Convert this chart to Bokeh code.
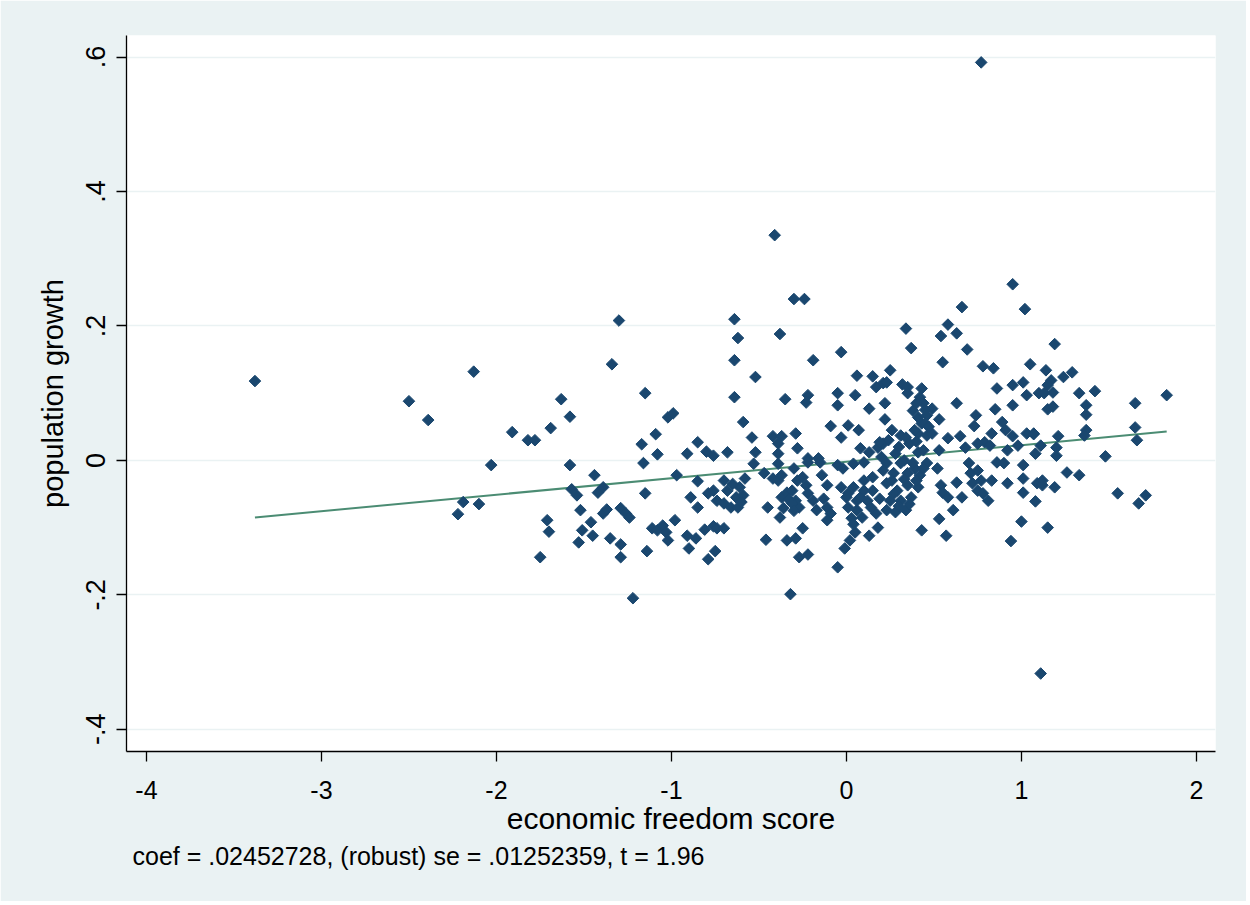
import numpy as np
from bokeh.plotting import figure
from bokeh.models import Range1d, FixedTicker, Title
from bokeh.embed import file_html
from bokeh.resources import INLINE

# economic freedom score (x) and population growth (y)
freedom = [
    -3.38, -2.50, -2.39, -2.13, -1.91, -1.82, -1.78, -1.69, -2.03, -2.19, -2.22, -2.10, -1.71, -1.70, -1.75, -1.63,
    -1.30, -1.34, -1.15, -1.58, -1.02, -0.99, -1.09, -1.17, -1.08, -0.91, -0.85, -0.80, -0.76,
    -1.58, -1.16, -1.44, -1.57, -1.54, -1.42, -1.39, -0.97, -1.15, -0.85, -0.89, -0.85, -0.79, -0.76, -0.74,
    -1.52, -1.39, -1.37, -1.29, -1.26, -1.24, -1.46, -1.51, -1.45, -1.53, -1.35, -1.29, -1.29, -1.11, -1.08,
    -1.05, -1.03, -1.02, -0.98, -0.91, -0.86, -0.90, -1.14, -0.81, -0.76, -0.74, -0.79, -0.75, -1.22,
    -0.41, -0.30, -0.24, -0.64, -0.62, -0.38, -0.64, -0.19, -0.03, -0.52, 0.06, 0.15, 0.17, -0.64, -0.35,
    -0.22, -0.23, -0.05, -0.05, 0.05, 0.13, -0.59, -0.54, -0.42, -0.37, -0.39, -0.39, -0.29, -0.28, -0.09,
    0.01, 0.07, -0.03, -0.68, -0.52, 0.08, 0.13, 0.18, -0.22, -0.16,
    -0.53, -0.39, -0.30, -0.22, -0.15, -0.05, -0.02, 0.04, 0.10,
    -0.70, -0.68, -0.70, -0.66, -0.63, -0.61, -0.58, -0.62, -0.59,
    -0.47, -0.42, -0.39, -0.37, -0.45, -0.70,
    -0.37, -0.34, -0.31, -0.29, -0.27, -0.31, -0.36, -0.38,
    -0.28, -0.25, -0.23, -0.22, -0.25, -0.34, -0.29, -0.46, -0.27, -0.22, -0.14, -0.11,
    -0.19, -0.17, -0.13, -0.11, -0.09, -0.11, -0.01, -0.05, -0.32,
    -0.03, 0.01, 0.04, 0.08, 0.01, 0.03, 0.06, 0.12, 0.15, 0.17, 0.18, 0.13, 0.05, 0.02, 0.10, 0.15,
    0.95, 1.02, 0.66, 0.34, 0.58, 0.54, 0.63, 0.37, 0.69, 0.55, 0.25, 0.78, 0.84, 1.05, 0.21, 0.23, 0.32,
    0.35, 0.35, 0.43, 0.86, 0.95, 1.01, 1.03, 1.10, 0.22,
    0.42, 0.44, 0.38, 0.41, 0.49, 0.46, 0.53, 0.43,
    0.63, 0.85, 0.95, 0.22, 0.74, 0.73, 0.89, 0.91,
    0.31, 0.34, 0.41, 0.46, 0.49, 0.58, 0.65, 0.83, 0.79, 0.95, 1.03, 1.07, 0.21, 0.24,
    0.28, 0.41, 0.44, 0.53, 0.68, 0.75, 0.82, 0.92, 0.98, 1.08, 0.19,
    0.26, 0.30, 0.36, 0.20, 0.33, 0.40, 0.45, 0.39,
    0.23, 0.31, 0.38, 0.46, 0.27, 0.35, 0.42, 0.23, 0.29, 0.35, 0.41, 0.25, 0.31, 0.37, 0.23, 0.28, 0.34, 0.19,
    0.52, 0.54, 0.55, 0.58, 0.63, 0.66, 0.61, 0.53, 0.43, 0.57,
    0.70, 0.71, 0.75, 0.77, 0.72, 0.75, 0.78, 0.81, 0.83, 0.86, 0.90, 0.92, 1.01, 1.01, 1.01, 1.09, 1.08, 1.00, 0.94,
    1.19, 1.14, 1.17, 1.15, 1.24, 1.29, 1.13, 1.18, 1.33, 1.42, 1.15, 1.18, 1.37, 1.37, 1.65, 1.83, 1.37, 1.36,
    1.65, 1.66, 1.07, 1.21, 1.11, 1.20, 1.20, 1.48, 1.26, 1.33, 1.12, 1.12, 1.19, 1.55, 1.71, 1.67, 1.15,
    0.77, 1.11,
    0.21, 0.26, 0.33, 0.40, 0.30, 0.36, 0.44, 0.27,
    0.00, 0.06, 0.10, 0.14, 0.09, 0.04,
    0.45, 0.40, 0.47, 0.39,
    -0.65, -0.60, -0.33, -0.30,
]
growth = [
    0.118, 0.088, 0.060, 0.132, 0.042, 0.030, 0.030, 0.048, -0.007, -0.062, -0.080, -0.065, -0.089, -0.106, -0.144, 0.091,
    0.208, 0.143, 0.100, 0.065, 0.064, 0.070, 0.039, 0.024, 0.009, 0.010, 0.027, 0.013, 0.007,
    -0.007, -0.004, -0.022, -0.043, -0.052, -0.048, -0.040, -0.022, -0.049, -0.031, -0.055, -0.070, -0.049, -0.045, -0.060,
    -0.074, -0.079, -0.073, -0.071, -0.079, -0.085, -0.092, -0.104, -0.112, -0.122, -0.116, -0.125, -0.144, -0.101, -0.104,
    -0.097, -0.107, -0.119, -0.089, -0.112, -0.116, -0.131, -0.135, -0.103, -0.098, -0.101, -0.147, -0.135, -0.205,
    0.335, 0.240, 0.240, 0.210, 0.182, 0.188, 0.149, 0.149, 0.161, 0.124, 0.126, 0.125, 0.109, 0.094, 0.091,
    0.097, 0.086, 0.100, 0.082, 0.097, 0.077, 0.057, 0.034, 0.036, 0.036, 0.025, 0.010, 0.040, 0.018, 0.051,
    0.052, 0.045, 0.034, 0.012, 0.012, 0.018, 0.012, 0.019, 0.003, 0.003,
    -0.005, -0.005, -0.012, -0.003, -0.003, -0.007, -0.012, -0.005, -0.003,
    -0.030, -0.045, -0.064, -0.070, -0.055, -0.040, -0.027, -0.070, -0.052,
    -0.019, -0.027, -0.030, -0.022, -0.070, -0.101,
    -0.055, -0.048, -0.045, -0.060, -0.070, -0.064, -0.071, -0.085,
    -0.030, -0.025, -0.037, -0.049, -0.101, -0.119, -0.116, -0.118, -0.144, -0.140, -0.022, -0.037,
    -0.060, -0.074, -0.057, -0.070, -0.079, -0.089, -0.131, -0.159, -0.199,
    -0.040, -0.049, -0.040, -0.055, -0.070, -0.086, -0.074, -0.060, -0.045, -0.079, -0.100, -0.112, -0.107, -0.119, -0.030, -0.025,
    0.262, 0.225, 0.228, 0.196, 0.202, 0.185, 0.189, 0.167, 0.165, 0.146, 0.134, 0.140, 0.137, 0.143, 0.115, 0.116, 0.113,
    0.109, 0.100, 0.107, 0.107, 0.112, 0.116, 0.097, 0.100, 0.085,
    0.094, 0.085, 0.074, 0.064, 0.077, 0.067, 0.061, 0.055,
    0.085, 0.076, 0.082, 0.061, 0.067, 0.051, 0.057, 0.045,
    0.037, 0.034, 0.040, 0.037, 0.040, 0.033, 0.036, 0.040, 0.027, 0.036, 0.040, 0.040, 0.025, 0.030,
    0.010, 0.012, 0.015, 0.015, 0.019, 0.025, 0.022, 0.015, 0.022, 0.010, 0.027,
    0.045, 0.020, 0.025, 0.005, 0.000, 0.028, 0.055, -0.012,
    -0.004, -0.004, -0.004, -0.004, -0.019, -0.019, -0.022, -0.034, -0.045, -0.037, -0.040, -0.060, -0.060, -0.055, -0.074, -0.077, -0.074, -0.057,
    -0.012, -0.037, -0.048, -0.055, -0.033, -0.055, -0.074, -0.087, -0.104, -0.112,
    -0.004, -0.019, -0.015, -0.030, -0.034, -0.045, -0.049, -0.060, -0.030, -0.003, -0.004, -0.034, -0.007, -0.027, -0.048, -0.034, -0.061, -0.091, -0.120,
    0.173, 0.134, 0.119, 0.112, 0.124, 0.131, 0.100, 0.101, 0.100, 0.103, 0.076, 0.080, 0.082, 0.068, 0.085, 0.097, 0.045, 0.037,
    0.049, 0.030, 0.039, 0.036, 0.022, 0.019, 0.007, 0.006, -0.018, -0.022, -0.030, -0.037, -0.040, -0.049, -0.052, -0.064, -0.100,
    0.592, -0.317,
    -0.015, -0.030, -0.028, -0.030, -0.068, -0.065, -0.012, -0.050,
    -0.055, -0.060, -0.045, -0.070, -0.085, -0.095,
    0.075, 0.085, 0.050, 0.045,
    -0.035, -0.062, -0.058, -0.075,
]

x_ticks = [-4, -3, -2, -1, 0, 1, 2]
x_tick_labels = ["-4", "-3", "-2", "-1", "0", "1", "2"]
y_ticks = [-0.4, -0.2, 0, 0.2, 0.4, 0.6]
y_tick_labels = ["-.4", "-.2", "0", ".2", ".4", ".6"]

fit_coef = 0.02452728
fit_intercept = -0.002
note_text = "coef = .02452728, (robust) se = .01252359, t = 1.96"
x_title = "economic freedom score"
y_title = "population growth"

FONT = "Liberation Sans"
BG = "#EAF2F3"
NAVY = "#1A476F"
LINE = "#4B8C73"

p = figure(
    width=1246, height=901,
    output_backend="svg", toolbar_location=None,
    x_range=Range1d(-4.114, 2.109), y_range=Range1d(-0.433, 0.632),
    min_border_left=126, min_border_top=35, min_border_right=31, min_border_bottom=150,
)
p.background_fill_color = "white"
p.border_fill_color = BG
p.outline_line_color = None

# axes
p.xaxis.ticker = FixedTicker(ticks=x_ticks)
p.xaxis.major_label_overrides = dict(zip(x_ticks, x_tick_labels))
p.yaxis.ticker = FixedTicker(ticks=y_ticks)
p.yaxis.major_label_overrides = dict(zip(y_ticks, y_tick_labels))
p.yaxis.major_label_orientation = "vertical"

for ax in (p.xaxis[0], p.yaxis[0]):
    ax.axis_line_color = "#000000"
    ax.axis_line_width = 1.3
    ax.major_tick_line_color = "#000000"
    ax.major_tick_line_width = 1.3
    ax.major_tick_out = 10
    ax.major_tick_in = 0
    ax.minor_tick_line_color = None
    ax.major_label_text_font = FONT
    ax.major_label_text_color = "#000000"
    ax.axis_label_text_font = FONT
    ax.axis_label_text_font_style = "normal"
    ax.axis_label_text_color = "#000000"

p.xaxis.major_label_text_font_size = "25px"
p.yaxis.major_label_text_font_size = "27px"
p.xaxis.axis_label_text_font_size = "30px"
p.yaxis.axis_label_text_font_size = "29px"

p.xaxis.axis_label = x_title
p.yaxis.axis_label = y_title
p.xaxis.major_label_standoff = 19
p.xaxis.axis_label_standoff = 0
p.yaxis.major_label_standoff = 11
p.yaxis.axis_label_standoff = 15

# grid
p.xgrid.visible = False
p.ygrid.ticker = FixedTicker(ticks=y_ticks)
p.ygrid.grid_line_color = BG
p.ygrid.grid_line_width = 1.5

# fitted line
fx = [min(freedom), max(freedom)]
fy = [fit_intercept + fit_coef * v for v in fx]
p.line(fx, fy, line_color=LINE, line_width=2)

# points
p.scatter(freedom, growth, marker="square", angle=np.pi / 4, size=8.2,
          fill_color=NAVY, line_color=NAVY, line_width=1)

note = Title(text=note_text, align="left", offset=6, standoff=4,
             text_font=FONT, text_font_size="25px", text_font_style="normal",
             text_color="#000000")
p.add_layout(note, "below")

open("out.html", "w").write(file_html(p, INLINE))
